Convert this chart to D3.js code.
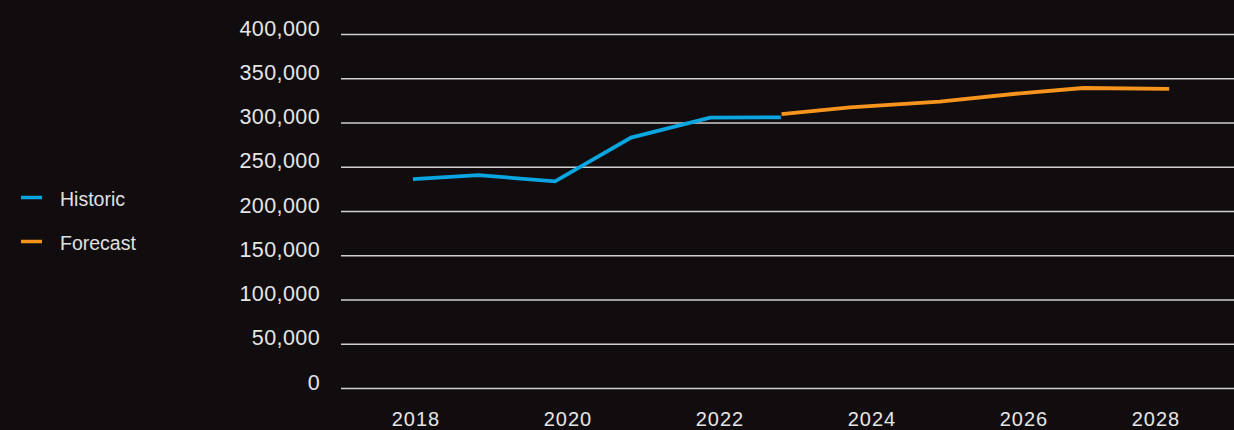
<!DOCTYPE html>
<html>
<head>
<meta charset="utf-8">
<script src="https://cdn.jsdelivr.net/npm/d3@7"></script>
<style>
  html, body { margin: 0; padding: 0; background: #110d0e; }
  svg { display: block; }
</style>
</head>
<body>
<svg id="chart" width="1234" height="430"></svg>
<script>
// Annual totals: historic and forecast series (x in fractional years)
const historicYears  = [2017.96, 2018.82, 2019.83, 2020.83, 2021.87, 2022.80];
const historicValues = [236000, 240500, 233500, 283000, 305400, 305800];

const forecastYears  = [2022.81, 2023.71, 2024.89, 2025.95, 2026.78, 2027.91];
const forecastValues = [309500, 317000, 323500, 333000, 339000, 338000];

const yTicks = [0, 50000, 100000, 150000, 200000, 250000, 300000, 350000, 400000];
const xTicks = [2018, 2020, 2022, 2024, 2026, 2028];

const seriesNames  = ["Historic", "Forecast"];
const seriesColors = ["#0aa6e1", "#f7941d"];

const plot = { left: 341, right: 1234, top: 34, bottom: 388 };

const svg = d3.select("#chart");

const x = d3.scaleLinear().domain([2018, 2028]).range([416, 1176]);
const y = d3.scaleLinear().domain([0, 400000]).range([plot.bottom, plot.top]);

// Gridlines + y labels
const yAxis = d3.axisLeft(y)
  .tickValues(yTicks)
  .tickSize(-(plot.right - plot.left))
  .tickFormat(d3.format(","));

const gy = svg.append("g")
  .attr("transform", `translate(${plot.left},0)`)
  .call(yAxis);
gy.select(".domain").remove();
gy.selectAll(".tick line")
  .attr("stroke", "#cfcfcf")
  .attr("stroke-width", 1.6);
gy.selectAll(".tick text")
  .attr("x", -21)
  .attr("dy", "0.05em")
  .attr("fill", "#e6e6e6")
  .style("font-family", "'Liberation Sans', Arial, sans-serif")
  .style("font-size", "21.5px")
  .style("letter-spacing", "0.4px");

// x labels, kept inside the right padding of the plot
const labelMaxX = 1156;
const gx = svg.append("g");
gx.selectAll("text")
  .data(xTicks)
  .join("text")
  .attr("x", d => Math.min(x(d), labelMaxX))
  .attr("y", 426)
  .attr("text-anchor", "middle")
  .attr("fill", "#e6e6e6")
  .style("font-family", "'Liberation Sans Narrow', 'Liberation Sans', sans-serif")
  .style("font-size", "20px")
  .style("letter-spacing", "1px")
  .text(d => d);

// Series lines
const line = d3.line()
  .x(d => x(d[0]))
  .y(d => y(d[1]));

const historic = d3.zip(historicYears, historicValues);
const forecast = d3.zip(forecastYears, forecastValues);

[historic, forecast].forEach((data, i) => {
  svg.append("path")
    .datum(data)
    .attr("fill", "none")
    .attr("stroke", seriesColors[i])
    .attr("stroke-width", 3.8)
    .attr("stroke-linejoin", "miter")
    .attr("d", line);
});

// Legend
const legend = svg.append("g");
const items = legend.selectAll("g")
  .data(seriesNames)
  .join("g")
  .attr("transform", (d, i) => `translate(21, ${197.5 + i * 44})`);
items.append("rect")
  .attr("x", 0).attr("y", -1.75)
  .attr("width", 21).attr("height", 3.5)
  .attr("fill", (d, i) => seriesColors[i]);
items.append("text")
  .attr("x", 39)
  .attr("y", 8.5)
  .attr("fill", "#e0e0e0")
  .style("font-family", "'Liberation Sans', Arial, sans-serif")
  .style("font-size", "19.5px")
  .text(d => d);
</script>
</body>
</html>
